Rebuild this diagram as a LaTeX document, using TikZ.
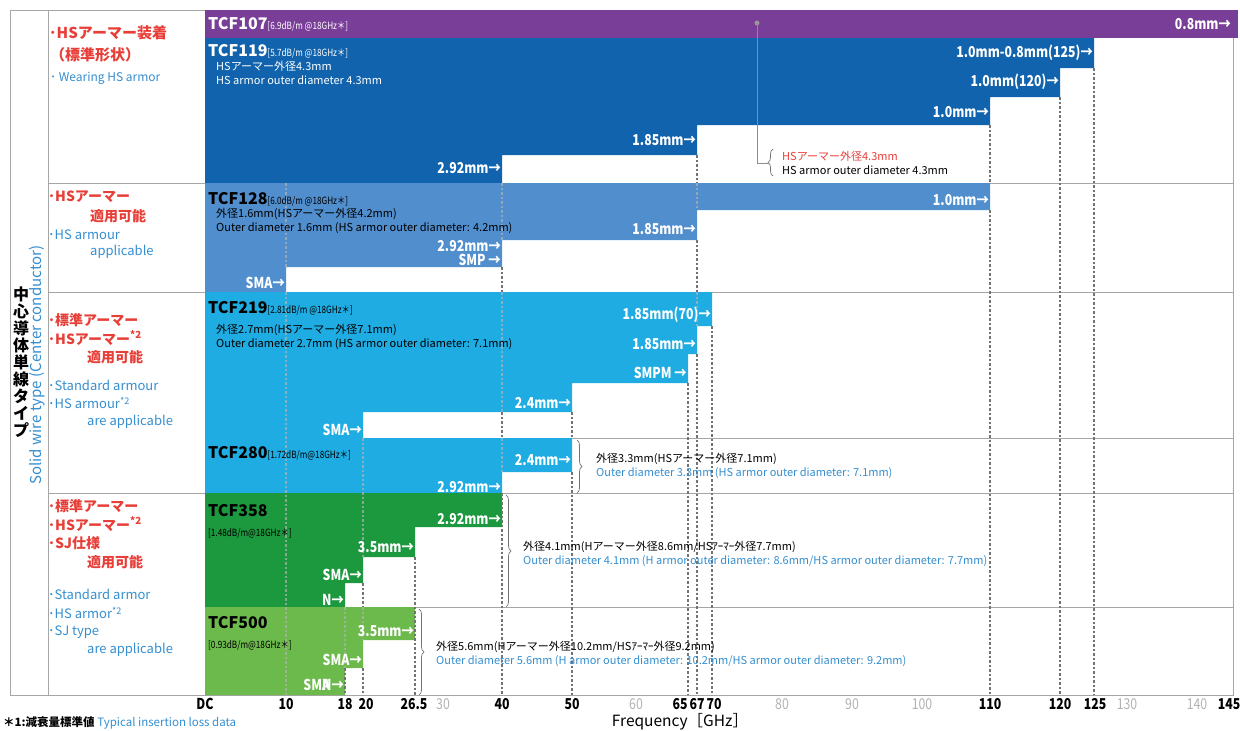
\documentclass[tikz,border=0pt]{standalone}
\usepackage{fontspec}
\setmainfont{Noto Sans CJK JP}
\newfontfamily\cond[FakeStretch=0.82]{Noto Sans CJK JP}
\usetikzlibrary{decorations.pathreplacing}

\definecolor{cPurple}{RGB}{121,62,151}
\definecolor{cNavy}{RGB}{16,99,172}
\definecolor{cMid}{RGB}{80,142,206}
\definecolor{cCyan}{RGB}{30,172,226}
\definecolor{cGreen}{RGB}{28,152,62}
\definecolor{cLime}{RGB}{108,186,76}
\definecolor{cRed}{RGB}{232,62,56}
\definecolor{cBlue}{RGB}{52,142,208}

\newcommand{\lossnote}[1]{{\cond\mdseries\fontsize{10}{10}\selectfont[#1]}}

\tikzset{
  ttl/.style={anchor=west, inner sep=0pt, font=\bfseries\fontsize{16}{16}\selectfont},
  lossline/.style={anchor=west, inner sep=0pt, font=\cond\fontsize{10}{10}\selectfont},
  plug/.style={anchor=east, inner sep=0pt, text=white, font=\cond\bfseries\fontsize{15}{15}\selectfont},
  desc/.style={anchor=west, inner sep=0pt, align=left, font=\fontsize{11}{14}\selectfont},
  jpred/.style={anchor=west, inner sep=0pt, text=cRed, font=\bfseries\fontsize{14}{14}\selectfont},
  enblue/.style={anchor=west, inner sep=0pt, text=cBlue, font=\fontsize{13}{13}\selectfont},
  freq/.style={inner sep=0pt, font=\cond\bfseries\fontsize{15}{15}\selectfont},
  freqg/.style={inner sep=0pt, text=black!30, font=\cond\fontsize{15}{15}\selectfont},
  rowline/.style={draw=black!35, line width=0.8pt},
  fdark/.style={draw=black!55, line width=1.1pt, dash pattern=on 2.5pt off 2pt},
  flight/.style={draw=white!70!black, line width=1.1pt, dash pattern=on 2.5pt off 2pt, opacity=0.7},
  brc/.style={draw=black!55, line width=0.7pt, decorate, decoration={brace,amplitude=5pt}},
}

\begin{document}
\begin{tikzpicture}[x=1pt,y=-1pt]
\useasboundingbox (0,0) rectangle (1240,731);

% frame and row lines
\draw[rowline] (10,10) -- (205,10);
\draw[rowline] (10,10) -- (10,695) -- (1233,695) -- (1233,38);
\draw[rowline] (48,10) -- (48,695);
\draw[rowline] (205,10) -- (205,695);
\draw[rowline] (48,183) -- (1233,183);
\draw[rowline] (48,292) -- (1233,292);
\draw[rowline] (205,438) -- (1233,438);
\draw[rowline] (48,493) -- (1233,493);
\draw[rowline] (205,607) -- (1233,607);

% step areas, x = frequency, y = cable
\filldraw[draw=none,fill=cPurple] (205,10) rectangle (1238,38);
\filldraw[draw=none,fill=cNavy] (205,38) -- (1094,38) -- (1094,68) -- (1060,68) -- (1060,97) -- (990,97) -- (990,125) -- (697,125) -- (697,155) -- (502,155) -- (502,183) -- (205,183) -- cycle;
\filldraw[draw=none,fill=cMid] (205,183) -- (990,183) -- (990,210) -- (697,210) -- (697,240) -- (502,240) -- (502,267) -- (286,267) -- (286,292) -- (205,292) -- cycle;
\filldraw[draw=none,fill=cCyan] (205,292) -- (712,292) -- (712,326) -- (697,326) -- (697,354) -- (688,354) -- (688,383) -- (572,383) -- (572,412) -- (363,412) -- (363,438) -- (205,438) -- cycle;
\filldraw[draw=none,fill=cCyan] (205,438) -- (572,438) -- (572,472) -- (502,472) -- (502,493) -- (205,493) -- cycle;
\filldraw[draw=none,fill=cGreen] (205,493) -- (502,493) -- (502,527) -- (415,527) -- (415,557) -- (363,557) -- (363,583) -- (345,583) -- (345,607) -- (205,607) -- cycle;
\filldraw[draw=none,fill=cLime] (205,607) -- (415,607) -- (415,640) -- (363,640) -- (363,668) -- (345,668) -- (345,695) -- (205,695) -- cycle;

% frequency lines on white
\draw[fdark] (345,668) -- (345,695);
\draw[fdark] (363,583) -- (363,607) (363,668) -- (363,695);
\draw[fdark] (415,557) -- (415,695);
\draw[fdark] (502,267) -- (502,292) (502,412) -- (502,438) (502,493) -- (502,695);
\draw[fdark] (572,412) -- (572,438) (572,472) -- (572,695);
\draw[fdark] (688,383) -- (688,695);
\draw[fdark] (697,155) -- (697,183) (697,240) -- (697,292) (697,354) -- (697,695);
\draw[fdark] (712,326) -- (712,695);
\draw[fdark] (990,125) -- (990,183) (990,210) -- (990,695);
\draw[fdark] (1060,97) -- (1060,695);
\draw[fdark] (1094,68) -- (1094,695);
% same lines over colour
\draw[flight] (286,183) -- (286,267) (286,292) -- (286,695);
\draw[flight] (345,607) -- (345,668);
\draw[flight] (363,438) -- (363,557) (363,607) -- (363,640);
\draw[flight] (502,183) -- (502,240) (502,292) -- (502,412) (502,438) -- (502,472);
\draw[flight] (697,183) -- (697,210) (697,292) -- (697,326);

% braces
\draw[brc] (577,440) -- (577,493);
\draw[brc] (506,495) -- (506,607);
\draw[brc] (419,609) -- (419,695);
\draw[brc] (773,176) -- (773,149);

% HS armor note
\coordinate (pin) at (757,23);
\fill[black!40] (pin) circle (2.5pt);
\node[desc] (hsnote) at (782,163) {\textcolor{cRed}{HSアーマー外径4.3mm}\\HS armor outer diameter 4.3mm};
\draw[black!45] (pin) |- ([xshift=-13pt]hsnote.west);

% cable names
\node[ttl,text=white] (t107) at (208,24) {TCF107\lossnote{6.9dB/m @18GHz＊}};
\node[ttl,text=white] (t119) at (208,51) {TCF119\lossnote{5.7dB/m @18GHz＊}};
\node[desc,text=white] (d119) at (216,73) {HSアーマー外径4.3mm\\HS armor outer diameter 4.3mm};
\node[ttl] (t128) at (208,199) {TCF128\lossnote{6.0dB/m @18GHz＊}};
\node[desc] (d128) at (216,221) {外径1.6mm(HSアーマー外径4.2mm)\\Outer diameter 1.6mm (HS armor outer diameter: 4.2mm)};
\node[ttl] (t219) at (208,308) {TCF219\lossnote{2.81dB/m @18GHz＊}};
\node[desc] (d219) at (216,337) {外径2.7mm(HSアーマー外径7.1mm)\\Outer diameter 2.7mm (HS armor outer diameter: 7.1mm)};
\node[ttl] (t280) at (208,453) {TCF280\lossnote{1.72dB/m@18GHz＊}};
\node[ttl] (t358) at (208,511) {TCF358};
\node[lossline] (l358) at (208,533) {[1.48dB/m@18GHz＊]};
\node[ttl] (t500) at (208,623) {TCF500};
\node[lossline] (l500) at (208,645) {[0.93dB/m@18GHz＊]};

\node[desc] (d280) at (596,466) {外径3.3mm(HSアーマー外径7.1mm)\\\textcolor{cBlue}{Outer diameter 3.3mm (HS armor outer diameter: 7.1mm)}};
\node[desc] (d358) at (523,554) {外径4.1mm(Hアーマー外径8.6mm/HSｱｰﾏｰ外径7.7mm)\\\textcolor{cBlue}{Outer diameter 4.1mm (H armor outer diameter: 8.6mm/HS armor outer diameter: 7.7mm)}};
\node[desc] (d500) at (436,654) {外径5.6mm(Hアーマー外径10.2mm/HSｱｰﾏｰ外径9.2mm)\\\textcolor{cBlue}{Outer diameter 5.6mm (H armor outer diameter: 10.2mm/HS armor outer diameter: 9.2mm)}};

% connector labels at the step edges
\node[plug] (p107) at (1231,24) {0.8mm→};
\node[plug] (p119a) at (1093,53) {1.0mm-0.8mm(125)→};
\node[plug] (p119b) at (1059,82) {1.0mm(120)→};
\node[plug] (p119c) at (989,112) {1.0mm→};
\node[plug] (p119d) at (696,140) {1.85mm→};
\node[plug] (p119e) at (501,168) {2.92mm→};
\node[plug] (p128a) at (989,200) {1.0mm→};
\node[plug] (p128b) at (696,229) {1.85mm→};
\node[plug] (p128c) at (501,246) {2.92mm→};
\node[plug] (p128d) at (501,260) {SMP →};
\node[plug] (p128e) at (285,283) {SMA→};
\node[plug] (p219a) at (711,315) {1.85mm(70)→};
\node[plug] (p219b) at (696,344) {1.85mm→};
\node[plug] (p219c) at (687,373) {SMPM →};
\node[plug] (p219d) at (571,403) {2.4mm→};
\node[plug] (p219e) at (362,430) {SMA→};
\node[plug] (p280a) at (571,460) {2.4mm→};
\node[plug] (p280b) at (501,487) {2.92mm→};
\node[plug] (p358a) at (501,519) {2.92mm→};
\node[plug] (p358b) at (414,547) {3.5mm→};
\node[plug] (p358c) at (362,575) {SMA→};
\node[plug] (p358d) at (344,600) {N→};
\node[plug] (p500a) at (414,631) {3.5mm→};
\node[plug] (p500b) at (362,660) {SMA→};
\node[plug] (p500c) at (344,685) {SM\rlap{A}N→};

% left column
\node[inner sep=0pt,align=center,font=\bfseries\fontsize{16}{17}\selectfont] (vjp) at (21,362) {中\\心\\導\\体\\単\\線\\タ\\イ\\プ};
\node[rotate=90,inner sep=0pt,text=cBlue,font=\fontsize{15}{15}\selectfont] (ven) at (37,365) {Solid wire type (Center conductor)};

\node[jpred,font=\bfseries\fontsize{15}{15}\selectfont] (r1a) at (49,33) {･HSアーマー装着};
\node[jpred,font=\bfseries\fontsize{15}{15}\selectfont] (r1b) at (50,55) {（標準形状）};
\node[enblue,font=\fontsize{12}{12}\selectfont] (b1a) at (50,78) {･ Wearing HS armor};
\node[jpred] (r2a) at (48,197) {･HSアーマー};
\node[jpred] (r2b) at (90,216) {適用可能};
\node[enblue] (b2a) at (48,235) {･HS armour};
\node[enblue] (b2b) at (90,252) {applicable};
\node[jpred] (r3a) at (48,320) {･標準アーマー};
\node[jpred] (r3b) at (48,338) {･HSアーマー\textsuperscript{*2}};
\node[jpred] (r3c) at (87,357) {適用可能};
\node[enblue] (b3a) at (48,385) {･Standard armour};
\node[enblue] (b3b) at (48,403) {･HS armour\textsuperscript{*2}};
\node[enblue] (b3c) at (87,422) {are applicable};
\node[jpred] (r4a) at (48,506) {･標準アーマー};
\node[jpred] (r4b) at (48,524) {･HSアーマー\textsuperscript{*2}};
\node[jpred] (r4c) at (48,543) {･SJ仕様};
\node[jpred] (r4d) at (87,562) {適用可能};
\node[enblue] (b4a) at (48,594) {･Standard armor};
\node[enblue] (b4b) at (48,613) {･HS armor\textsuperscript{*2}};
\node[enblue] (b4c) at (48,632) {･SJ type};
\node[enblue] (b4d) at (87,650) {are applicable};

% frequency axis
\node[freq] (fDC) at (205,704) {DC};
\node[freq] (f10) at (286,704) {10};
\node[freq] (f18) at (345,704) {18};
\node[freq] (f20) at (366,704) {20};
\node[freq] (f265) at (414,704) {26.5};
\node[freqg] (f30) at (443,704) {30};
\node[freq] (f40) at (502,704) {40};
\node[freq] (f50) at (572,704) {50};
\node[freqg] (f60) at (636,704) {60};
\node[freq] (f65) at (680,704) {65};
\node[freq] (f67) at (697,704) {67};
\node[freq] (f70) at (714,704) {70};
\node[freqg] (f80) at (782,704) {80};
\node[freqg] (f90) at (852,704) {90};
\node[freqg] (f100) at (922,704) {100};
\node[freq] (f110) at (990,704) {110};
\node[freq] (f120) at (1060,704) {120};
\node[freq] (f125) at (1095,704) {125};
\node[freqg] (f130) at (1127,704) {130};
\node[freqg] (f140) at (1197,704) {140};
\node[freq] (f145) at (1229,704) {145};
\node[inner sep=0pt,font=\fontsize{15.5}{15.5}\selectfont] (fq) at (680,722) {Frequency［GHz］};
\node[anchor=west,inner sep=0pt,font=\bfseries\fontsize{11.5}{12}\selectfont] (fn) at (3,723) {＊1:減衰量標準値 \textcolor{cBlue}{\mdseries Typical insertion loss data}};

\end{tikzpicture}
\end{document}
